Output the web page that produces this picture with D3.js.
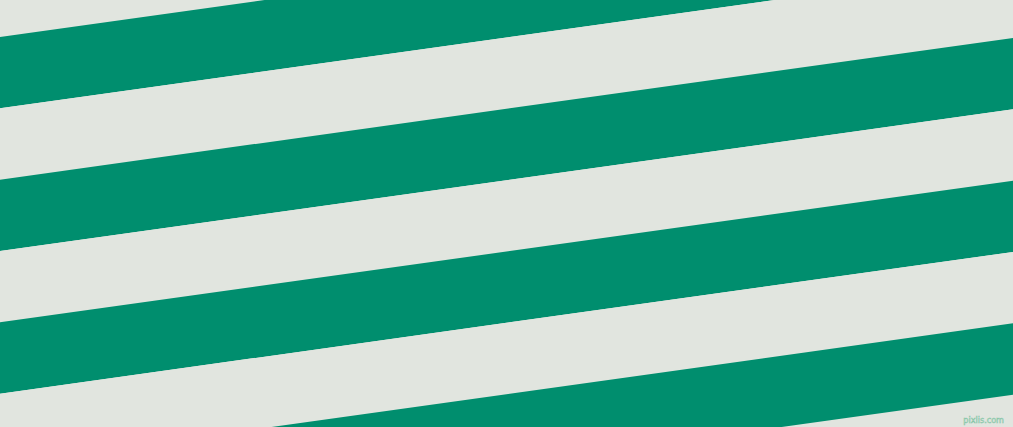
<!DOCTYPE html>
<html>
<head>
<meta charset="utf-8">
<script src="https://cdn.jsdelivr.net/npm/d3@7"></script>
<style>
  html, body { margin: 0; padding: 0; background: #e1e5df; overflow: hidden; }
</style>
</head>
<body>
<div id="chart"></div>
<script>
// stripe bands, numbered from the one just above the top-left corner
const bandIndex = [-2, -1, 0, 1, 2, 3, 4, 5, 6];
const bandColors = ['#008e6e', '#e1e5df'];
const watermark = 'pixlis.com';

const W = 1013, H = 427;

// band index -> y of band top at left edge
const yLeft = d3.scaleLinear().domain([0, 1]).range([37, 108.33]);
// drop of each edge from left to right side
const rise = d3.scaleLinear().domain([0, W]).range([0, 141.67]);

const svg = d3.select('#chart').append('svg')
  .attr('width', W)
  .attr('height', H)
  .attr('viewBox', [0, 0, W, H]);

svg.append('rect').attr('width', W).attr('height', H).attr('fill', bandColors[1]);

svg.append('g')
  .selectAll('path')
  .data(bandIndex)
  .join('path')
    .attr('fill', d => bandColors[((d % 2) + 2) % 2])
    .attr('d', d => {
      const t = yLeft(d), b = yLeft(d + 1);
      return `M0,${t}L${W},${t - rise(W)}L${W},${b - rise(W)}L0,${b}Z`;
    });

svg.append('text')
  .attr('x', W - 9)
  .attr('y', H - 4)
  .attr('text-anchor', 'end')
  .attr('font-family', 'DejaVu Sans Condensed, DejaVu Sans, sans-serif')
  .attr('font-size', 9)
  .attr('fill', '#d6ece0')
  .attr('stroke', '#86c4a6')
  .attr('stroke-width', 0.5)
  .text(watermark);
</script>
</body>
</html>
